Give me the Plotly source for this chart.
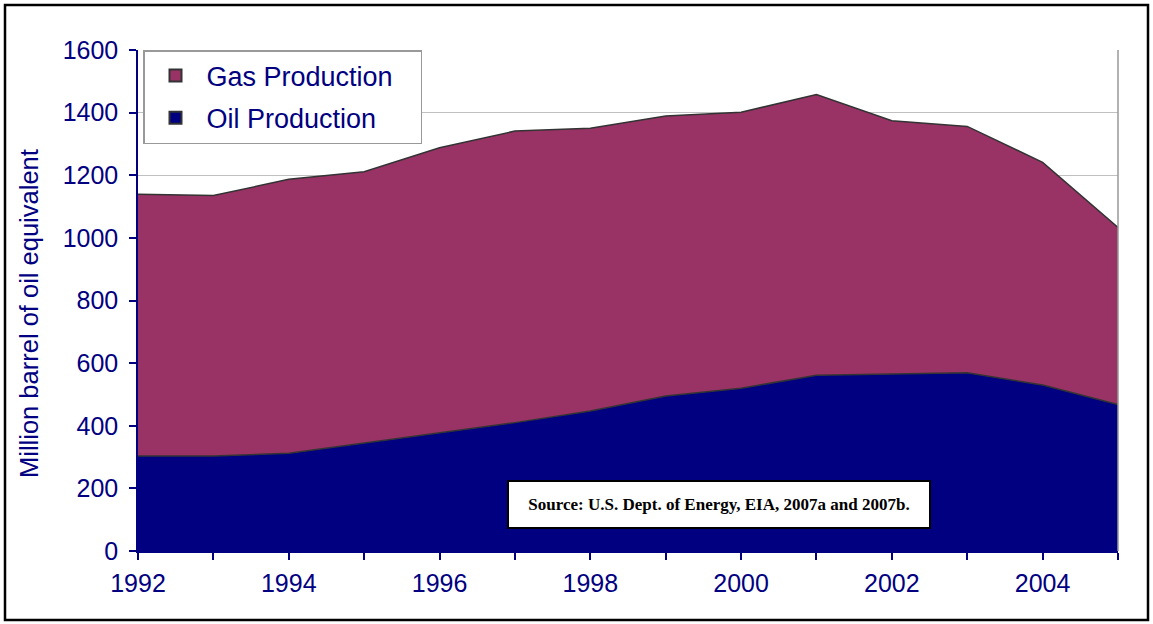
import plotly.graph_objects as go

years = list(range(1992, 2006))
oil = [303, 303, 312, 344, 376, 410, 447, 495, 520, 561, 565, 569, 530, 468]
total = [1139, 1135, 1187, 1211, 1288, 1341, 1350, 1389, 1401, 1458, 1374, 1356, 1241, 1033]
gas = [t - o for t, o in zip(total, oil)]
y_ticks = [0, 200, 400, 600, 800, 1000, 1200, 1400, 1600]
x_ticktext = [str(y) if y % 2 == 0 else "" for y in years]

NAVY = "#000080"
GAS_C = "#993366"
OIL_C = "#000080"

fig = go.Figure()
fig.add_trace(go.Scatter(x=years, y=oil, stackgroup="one", mode="lines",
                         line=dict(color="#333333", width=1.5), fillcolor=OIL_C,
                         name="Oil Production", showlegend=False))
fig.add_trace(go.Scatter(x=years, y=gas, stackgroup="one", mode="lines",
                         line=dict(color="#333333", width=1.5), fillcolor=GAS_C,
                         name="Gas Production", showlegend=False))
# legend entries
fig.add_trace(go.Scatter(x=[None], y=[None], mode="markers",
                         name="Gas Production\u00a0\u00a0\u00a0",
                         marker=dict(symbol="square", size=17, color=GAS_C,
                                     line=dict(color="#333333", width=1.5)),
                         legendgroup="g"))
fig.add_trace(go.Scatter(x=[None], y=[None], mode="markers", name="Oil Production",
                         marker=dict(symbol="square", size=17, color=OIL_C,
                                     line=dict(color="#333333", width=1.5)),
                         legendgroup="o"))

L, R, T, B = 138, 35, 50, 73
W, H = 1153, 624
pw = W - L - R
ph = H - T - B

def px(x):
    return (x - L) / pw

def py(y):
    return (H - B - y) / ph

fig.update_layout(
    width=W, height=H,
    margin=dict(l=L, r=R, t=T, b=B),
    paper_bgcolor="white", plot_bgcolor="white",
    font=dict(family="Arial, Liberation Sans, sans-serif", color=NAVY),
    showlegend=True,
    legend=dict(x=px(143), y=py(50), xanchor="left", yanchor="top",
                bgcolor="white", bordercolor="#999999", borderwidth=1.5,
                font=dict(size=27, color=NAVY), tracegroupgap=4,
                traceorder="grouped", itemsizing="constant", itemwidth=52),
    xaxis=dict(range=[1992, 2005], tickvals=years, ticktext=x_ticktext,
               ticks="outside", ticklen=7, tickcolor=NAVY, tickwidth=1.5,
               showline=True, linecolor=NAVY, linewidth=1.5, showgrid=False,
               zeroline=False, tickfont=dict(size=25, color=NAVY),
               ticklabelstandoff=2),
    yaxis=dict(range=[0, 1600], tickvals=y_ticks,
               ticks="outside", ticklen=7, tickcolor=NAVY, tickwidth=1.5,
               showline=True, linecolor=NAVY, linewidth=1.5,
               showgrid=True, gridcolor="#c0c0c0", gridwidth=1,
               zeroline=False, tickfont=dict(size=25, color=NAVY),
               ticklabelstandoff=6),
    shapes=[
        dict(type="line", xref="paper", yref="paper", x0=1, x1=1, y0=0, y1=1,
             line=dict(color="#999999", width=1.5)),
        dict(type="rect", xref="paper", yref="paper",
             x0=px(5), x1=px(1148), y0=py(620), y1=py(5),
             line=dict(color="black", width=2.5), layer="below"),
    ],
    annotations=[
        dict(text="Million barrel of oil equivalent", textangle=-90,
             xref="paper", yref="paper", x=px(29), y=py(314),
             xanchor="center", yanchor="middle", showarrow=False,
             font=dict(size=25.5, color=NAVY)),
        dict(text="<b>Source: U.S. Dept. of Energy, EIA, 2007a and 2007b.</b>",
             xref="paper", yref="paper", x=px(719), y=py(504.5),
             xanchor="center", yanchor="middle", showarrow=False,
             width=418, height=43, bgcolor="white", bordercolor="black",
             borderwidth=2,
             font=dict(family="Times New Roman, Liberation Serif, serif",
                       size=17, color="black")),
    ],
)

fig.write_html("out.html", config={"displayModeBar": False},
               post_script="document.body.style.margin='0px';document.body.style.overflow='hidden';")
